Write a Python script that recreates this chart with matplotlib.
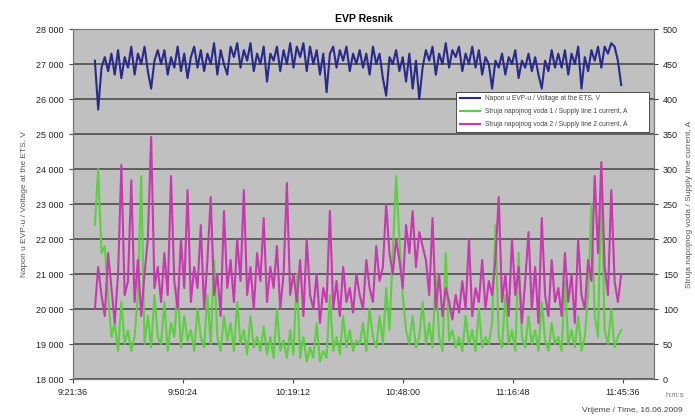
import numpy as np
import matplotlib
matplotlib.use('Agg')
import matplotlib.pyplot as plt
from matplotlib.ticker import FuncFormatter, FixedLocator

plt.rcParams['font.family'] = ['Liberation Sans', 'DejaVu Sans']

# Podaci ocitani sa slike (uzorci od 9:27:20, korak 52 s)
start_sec = 9 * 3600 + 27 * 60 + 20
step_sec = 52

napon = [
    27100, 25700, 26900, 27200, 26800, 27300, 26700, 27400, 26600, 27200,
    26900, 27500, 26700, 27300, 27000, 27500, 26800, 26300, 27100, 27400,
    27000, 27400, 26700, 27200, 26900, 27500, 26800, 27300, 26600, 27200,
    27500, 26900, 27400, 26800, 27300, 27000, 27600, 26700, 27400, 27000,
    26700, 27500, 27200, 27600, 26900, 27400, 27100, 27600, 26800, 27300,
    27000, 27500, 26500, 27300, 27100, 27500, 26800, 27400, 27000, 27600,
    26900, 27500, 27200, 27600, 26800, 27500, 27000, 27400, 26700, 27300,
    26200, 27300, 27500, 26900, 27400, 27100, 27500, 26800, 27300, 27000,
    27400, 26900, 27300, 26700, 27500, 27000, 27300, 26600, 26100, 27200,
    27000, 27400, 26800, 27200, 26500, 27300, 26300, 27100, 26000, 26900,
    27400, 27100, 27500, 26700, 27300, 27000, 27600, 26900, 27400, 27200,
    27500, 26800, 27300, 27000, 27500, 26900, 27400, 26700, 27200, 27000,
    26300, 27100, 26900, 27300, 26700, 27200, 27000, 27400, 26600, 27100,
    26900, 27300, 26800, 27200, 26700, 26300, 27100, 26800, 27400, 26900,
    27300, 26900, 27400, 26700, 27300, 27000, 27500, 26300, 27200, 26800,
    27400, 27100, 27500, 26900, 27500, 27300, 27600, 27500, 27100, 26400,
]

struja_1 = [
    220, 300, 180, 190, 120, 60, 80, 40, 110, 50,
    70, 40, 60, 120, 290, 50, 90, 45, 120, 60,
    50, 110, 40, 80, 60, 130, 45, 90, 55, 70,
    40, 100, 60, 45, 120, 50, 170, 60, 40, 90,
    55, 80, 40, 110, 50, 70, 35, 90, 45, 60,
    40, 75, 35, 60, 30, 100, 40, 55, 30, 70,
    35, 150, 30, 60, 25, 45, 30, 80, 25, 40,
    30, 120, 40, 60, 35, 90, 45, 70, 40, 55,
    50, 80, 40, 100, 60, 45, 90, 50, 130, 70,
    180, 290, 200, 120, 70, 50, 90, 45, 60, 110,
    50, 80, 45, 150, 60, 40, 180, 55, 70, 45,
    60, 40, 90, 50, 70, 40, 100, 45, 60, 50,
    80, 220, 60, 45, 120, 50, 70, 40, 180, 60,
    45, 90, 50, 70, 40, 110, 55, 40, 80, 50,
    60, 40, 140, 50, 70, 45, 90, 40, 60, 120,
    250, 90, 60, 280, 70, 50, 100, 45, 60, 70,
]

struja_2 = [
    100, 160, 120, 90, 180, 130, 80, 150, 306, 120,
    140, 284, 110, 170, 90, 150, 200, 346, 130, 160,
    110, 180, 120, 290, 140, 100, 200, 130, 270, 110,
    160, 130, 220, 100, 170, 260, 120, 150, 90, 240,
    130, 170, 110, 200, 140, 270, 120, 160, 100, 180,
    140, 230, 110, 160, 130, 190, 100, 150, 280, 120,
    150, 110, 170, 90, 200, 120, 100, 150, 80, 130,
    110, 240, 100, 140, 90, 160, 110, 130, 95, 150,
    120, 100, 170, 130, 110, 190, 140, 160, 250, 180,
    150, 200, 170, 130, 220, 180, 240, 160, 210, 190,
    170, 120, 230, 100, 150, 90, 130, 110, 85, 120,
    95, 140, 100, 200, 90, 130, 110, 170, 100, 140,
    120, 170, 260, 110, 150, 90, 200, 120, 160, 80,
    140, 210, 100, 160, 80, 230, 120, 90, 170, 110,
    130, 90, 180, 110, 150, 80, 200, 120, 100, 170,
    140, 290, 180, 310, 160, 120, 270, 140, 110, 150,
]

x_tick_labels = ['9:21:36', '9:50:24', '10:19:12', '10:48:00', '11:16:48', '11:45:36']
x_tick_sec = [9 * 3600 + 21 * 60 + 36 + i * 1728 for i in range(len(x_tick_labels))]

vrijeme = start_sec + step_sec * np.arange(len(napon))

fig = plt.figure(figsize=(6.95, 4.2), dpi=100)
ax = fig.add_axes([0.105, 0.0976, 0.836, 0.833])
ax.set_facecolor('#c0c0c0')

ax.plot(vrijeme, napon, color='#2a2a8a', lw=1.5, label='Napon u EVP-u / Voltage at the ETS, V')
ax.set_ylim(18000, 28000)
ax.set_xlim(x_tick_sec[0], x_tick_sec[0] + 9127)
ax.yaxis.set_major_locator(FixedLocator(np.arange(18000, 28001, 1000)))
ax.yaxis.set_major_formatter(FuncFormatter(lambda v, p: f"{int(v):,}".replace(',', ' ')))
ax.grid(True, axis='y', color='#444444', lw=1.1)
ax.set_axisbelow(True)

ax.xaxis.set_major_locator(FixedLocator(x_tick_sec))
ax.set_xticklabels(x_tick_labels)

ax2 = ax.twinx()
ax2.plot(vrijeme, struja_1, color='#5cd040', lw=1.5, label='Struja napojnog voda 1 / Supply line 1 current, A')
ax2.plot(vrijeme, struja_2, color='#c838b0', lw=1.5, label='Struja napojnog voda 2 / Supply line 2 current, A')
ax2.set_ylim(0, 500)
ax2.yaxis.set_major_locator(FixedLocator(np.arange(0, 501, 50)))

for a in (ax, ax2):
    a.tick_params(labelsize=6.5, length=3, width=0.8, color='#444444', labelcolor='#222222')
    for s in a.spines.values():
        s.set_color('#777777')
        s.set_linewidth(0.8)

ax.set_title('EVP Resnik', fontsize=7.5, fontweight='bold', pad=5)
ax.set_ylabel('Napon u EVP-u / Voltage at the ETS, V', fontsize=6, color='#555555', labelpad=6)
ax2.set_ylabel('Struja napojnog voda / Supply line current, A', fontsize=6, color='#555555', labelpad=6)

fig.text(0.985, 0.058, 'h:m:s', fontsize=5.5, color='#777777', ha='right', va='center')
fig.text(0.982, 0.022, 'Vrijeme / Time, 16.06.2009', fontsize=6, color='#444444', ha='right', va='center')

h1, l1 = ax.get_legend_handles_labels()
h2, l2 = ax2.get_legend_handles_labels()
leg = ax2.legend(h1 + h2, l1 + l2, loc='lower left', bbox_to_anchor=(0.654, 0.697, 0.343, 0.134),
                 mode='expand', fontsize=4.8, frameon=True, fancybox=False, framealpha=1,
                 borderpad=0.5, handlelength=3, labelspacing=0.9)
leg.get_frame().set_edgecolor('#333333')
leg.get_frame().set_linewidth(0.6)
for t in leg.get_texts():
    t.set_color('#444444')

fig.savefig('out.png', dpi=100)
